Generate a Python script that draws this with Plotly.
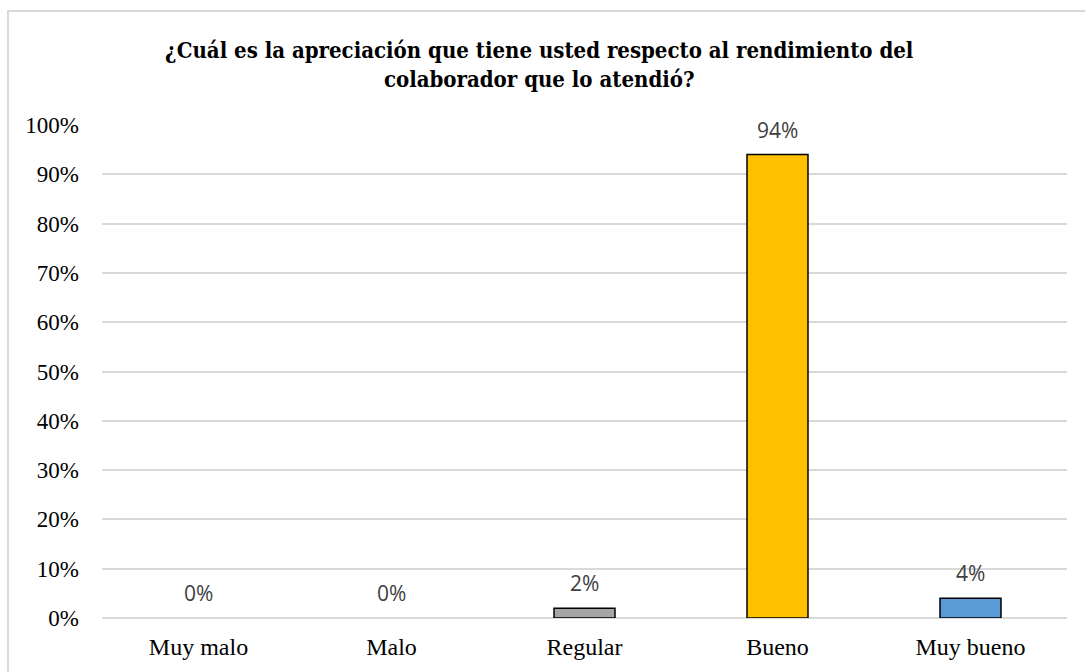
import plotly.graph_objects as go

# Survey answers and their share of respondents (%)
categories = ["Muy malo", "Malo", "Regular", "Bueno", "Muy bueno"]
percentages = [0, 0, 2, 94, 4]
bar_colors = ["#4472c4", "#ed7d31", "#a5a5a5", "#ffc000", "#5b9bd5"]
y_ticks = list(range(0, 101, 10))
y_tick_labels = [f"{v}%" for v in y_ticks]

title_text = ("¿Cuál es la apreciación que tiene usted respecto al rendimiento del"
              "<br>colaborador que lo atendió?")

SERIF = "Liberation Serif, Times New Roman, DejaVu Serif, serif"
TITLE_FONT = "DejaVu Serif Condensed, DejaVu Serif, serif"

W, H = 1085, 672
L, R, T, B = 102, 18, 124.5, 50
plot_w = W - L - R
plot_h = H - T - B

fig = go.Figure()
fig.add_trace(go.Bar(
    x=categories,
    y=percentages,
    marker=dict(
        color=bar_colors,
        line=dict(color="#000000", width=[0 if v == 0 else 1.5 for v in percentages]),
    ),
    hoverinfo="x+y",
))

# Value labels floating above each bar
for cat, val in zip(categories, percentages):
    fig.add_annotation(
        x=cat, y=val, text=f"{val}%", showarrow=False,
        yanchor="middle", yshift=25,
        font=dict(family="Open Sans", size=21, color="#404040"),
    )

# Light frame around the chart area
fig.add_shape(
    type="rect", xref="paper", yref="paper",
    x0=(8 - L) / plot_w, x1=(W + 10 - L) / plot_w,
    y0=-60 / plot_h, y1=(H - B - 9.5) / plot_h,
    line=dict(color="#d9d9d9", width=2), fillcolor="rgba(0,0,0,0)", layer="below",
)

fig.update_layout(
    width=W, height=H,
    margin=dict(l=L, r=R, t=T, b=B, pad=0),
    paper_bgcolor="white", plot_bgcolor="white",
    showlegend=False,
    bargap=0.684,
    title=dict(
        text=title_text, x=0.497, xref="container", xanchor="center",
        y=(H - 58) / H, yref="container", yanchor="middle",
        font=dict(family=TITLE_FONT, size=22, color="#000000", weight="bold"),
    ),
    xaxis=dict(
        showgrid=False, showline=False, zeroline=False, ticks="",
        tickfont=dict(family=SERIF, size=24, color="#000000"),
        ticklabelstandoff=12,
    ),
    yaxis=dict(
        range=[0, 100], tickvals=y_ticks, ticktext=y_tick_labels,
        showgrid=True, gridcolor="#d9d9d9", gridwidth=1.5,
        zeroline=True, zerolinecolor="#d9d9d9", zerolinewidth=1.5,
        showline=False, ticks="",
        tickfont=dict(family=SERIF, size=23, color="#000000"),
        ticklabelstandoff=22,
    ),
)

fig.write_html("out.html")
